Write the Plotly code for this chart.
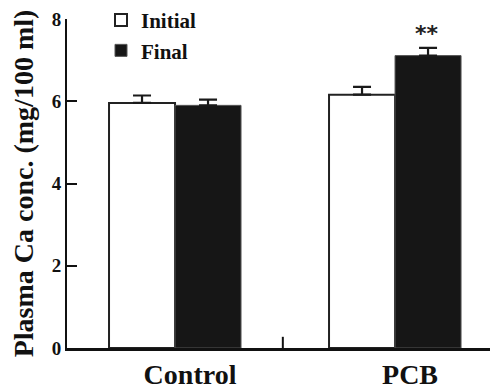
import plotly.graph_objects as go

categories = ["Control", "PCB"]
initial_vals = [5.96, 6.16]
initial_err = [0.18, 0.19]
final_vals = [5.90, 7.11]
final_err = [0.14, 0.19]
y_ticks = [0, 2, 4, 6, 8]
sig_label = "**"

serif = "Liberation Serif"

fig = go.Figure()
fig.add_trace(go.Bar(
    x=categories, y=initial_vals, name="Initial",
    marker=dict(color="white", line=dict(color="#222222", width=2)),
    error_y=dict(type="data", array=initial_err, arrayminus=[0, 0], symmetric=False,
                 color="#1a1a1a", thickness=2.2, width=9),
))
fig.add_trace(go.Bar(
    x=categories, y=final_vals, name="Final",
    marker=dict(color="#161616", line=dict(color="#555555", width=1)),
    error_y=dict(type="data", array=final_err, arrayminus=[0, 0], symmetric=False,
                 color="#1a1a1a", thickness=2.2, width=9),
))

fig.add_annotation(x=1, xshift=32, y=final_vals[1] + final_err[1], yshift=14,
                   text=sig_label, showarrow=False, yanchor="middle",
                   font=dict(family="DejaVu Sans", size=22, color="#222", weight="bold"))

# divider tick between categories
fig.add_shape(type="line", xref="x", yref="paper", x0=0.49, x1=0.49, y0=0, y1=0.034,
              line=dict(color="#111", width=2))

fig.update_layout(
    width=490, height=384,
    margin=dict(l=59, r=0, t=11, b=44, autoexpand=False),
    plot_bgcolor="white", paper_bgcolor="white",
    barmode="group", bargap=0.4, bargroupgap=0,
    showlegend=True,
    legend=dict(x=34 / 431, y=1.058, xanchor="left", yanchor="top",
                font=dict(family=serif, size=21, color="#111", weight="bold"),
                bgcolor="rgba(0,0,0,0)", itemwidth=30),
    font=dict(family=serif, color="#111"),
)
fig.update_xaxes(
    range=[-0.491, 1.468], showline=True, linecolor="#111", linewidth=2.5,
    ticks="", tickfont=dict(family=serif, size=28, color="#111", weight="bold"),
    ticklabelshift=15,
    showgrid=False, zeroline=False, automargin=True,
)
fig.update_yaxes(
    range=[0, 8], tickvals=y_ticks, showline=True, linecolor="#111", linewidth=2,
    ticks="inside", ticklen=10, tickwidth=2, tickcolor="#111",
    tickfont=dict(family=serif, size=19, color="#111", weight="bold"),
    title=dict(text="Plasma Ca conc. (mg/100 ml)",
               font=dict(family=serif, size=28, color="#111", weight="bold"), standoff=10),
    showgrid=False, zeroline=False, automargin=True,
)

fig.write_html("out.html")
